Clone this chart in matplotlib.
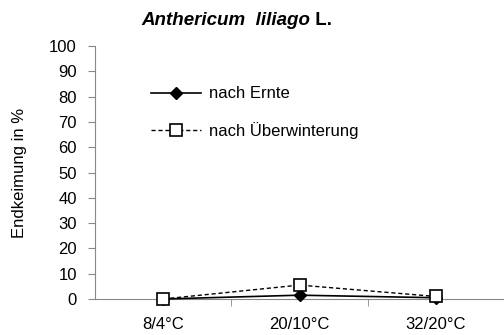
import matplotlib
matplotlib.use("Agg")
import matplotlib.pyplot as plt

plt.rcParams['font.family'] = ['Liberation Sans', 'DejaVu Sans']

categories = ["8/4°C", "20/10°C", "32/20°C"]
nach_ernte = [0, 1.5, 0.5]
nach_ueberwinterung = [0, 5.5, 1]
yticks = list(range(0, 101, 10))

FS = 12

fig = plt.figure(figsize=(5.04, 3.35), dpi=100)
ax = fig.add_axes([0.1885, 0.1075, 0.8115, 0.755])
x = list(range(len(categories)))
ax.plot(x, nach_ernte, color='black', lw=1.2, marker='D', ms=6,
        mfc='black', mec='black', label='nach Ernte', clip_on=False, zorder=3)
ax.plot(x, nach_ueberwinterung, color='black', lw=1.0, ls=(0, (3, 2)), marker='s', ms=8,
        mfc='white', mec='black', mew=1.2, label='nach Überwinterung', clip_on=False, zorder=4)

ax.set_xlim(-0.5, 2.5)
ax.set_ylim(0, 100)
ax.set_yticks(yticks)
ax.set_xticks(x)
ax.set_xticklabels(categories, fontsize=FS)
ax.tick_params(axis='x', length=0, pad=13)
ax.set_xticks([0.5, 1.5], minor=True)
ax.tick_params(axis='x', which='minor', length=5, direction='out', color='#888888')
ax.tick_params(axis='y', length=5, direction='out', color='#888888', labelsize=FS, pad=8)
for s in ['top', 'right']:
    ax.spines[s].set_visible(False)
for s in ['left', 'bottom']:
    ax.spines[s].set_color('#888888')
ax.set_ylabel('Endkeimung in %', fontsize=FS, labelpad=16)

leg = ax.legend(loc='upper left', bbox_to_anchor=(0.1, 0.9), frameon=False,
                fontsize=FS, handlelength=3.0, labelspacing=1.25, handletextpad=0.5)

fig.text(0.615, 0.94, 'Anthericum  liliago', ha='right', va='center', fontsize=13.5,
         fontstyle='italic', fontweight='bold')
fig.text(0.615, 0.94, ' L.', ha='left', va='center', fontsize=13.5, fontweight='bold')

fig.savefig('out.png', dpi=100)
